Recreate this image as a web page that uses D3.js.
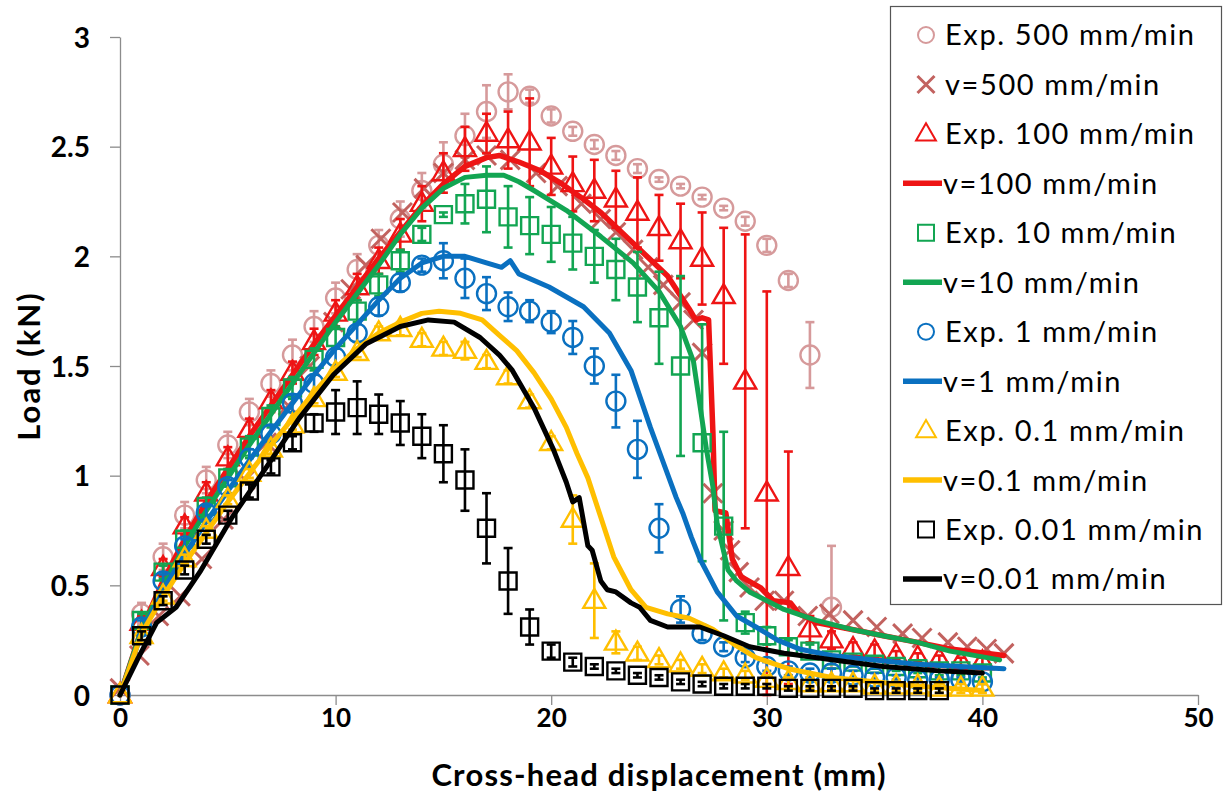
<!DOCTYPE html>
<html>
<head>
<meta charset="utf-8">
<script src="https://cdn.jsdelivr.net/npm/d3@7"></script>
<style>
  html, body { margin: 0; padding: 0; background: #fff; }
  svg { display: block; }
</style>
</head>
<body>
<svg id="chart" width="1227" height="800"></svg>
<script>
// ---- Axis ticks ----
const xTicks = [0, 10, 20, 30, 40, 50];
const yTicks = [0, 0.5, 1, 1.5, 2, 2.5, 3];

// ---- Experimental data (one point per mm): mean load and error half-width (kN) ----
const exp500 = [0,0.37,0.63,0.82,0.98,1.14,1.29,1.42,1.55,1.68,1.81,1.94,2.05,2.17,2.30,2.42,2.55,2.66,2.75,2.73,2.64,2.57,2.51,2.46,2.40,2.35,2.32,2.27,2.22,2.16,2.05,1.89,1.55,0.40];
const err500 = [0,0.05,0.06,0.06,0.06,0.06,0.06,0.06,0.07,0.07,0.07,0.07,0.07,0.08,0.08,0.1,0.1,0.12,0.08,0.03,0.03,0.02,0.02,0.02,0.02,0.01,0.01,0.01,0.01,0.02,0.03,0.03,0.15,0.28];

const exp100 = [0,0.33,0.58,0.77,0.92,1.08,1.21,1.34,1.47,1.61,1.74,1.86,1.98,2.10,2.24,2.38,2.49,2.56,2.53,2.52,2.41,2.33,2.30,2.26,2.20,2.13,2.07,1.99,1.82,1.43,0.92,0.58,0.30,0.25,0.21,0.20,0.18,0.17,0.16,0.15,0.15];
const err100 = [0,0.03,0.04,0.04,0.05,0.05,0.05,0.05,0.05,0.06,0.06,0.06,0.06,0.07,0.08,0.09,0.1,0.09,0.13,0.2,0.13,0.125,0.14,0.13,0.16,0.15,0.17,0.21,0.31,0.67,0.92,0.53,0.06,0.04,0.03,0.03,0.02,0.02,0.02,0.02,0.02];

const exp10 = [0,0.34,0.56,0.71,0.86,0.99,1.13,1.27,1.40,1.53,1.63,1.75,1.87,1.98,2.10,2.19,2.24,2.26,2.18,2.14,2.10,2.06,2.00,1.94,1.86,1.72,1.50,1.15,0.77,0.33,0.27,0.22,0.20,0.16,0.15,0.14,0.13,0.12,0.11,0.11,0.10];
const err10 = [0,0.03,0.03,0.04,0.04,0.04,0.05,0.05,0.05,0.05,0.05,0.05,0.05,0.05,0.03,0.01,0.09,0.15,0.14,0.13,0.125,0.12,0.12,0.14,0.16,0.21,0.41,0.54,0.43,0.05,0.04,0.03,0.03,0.02,0.02,0.02,0.02,0.02,0.02,0.02,0.02];

const exp1 = [0,0.31,0.52,0.68,0.83,0.95,1.08,1.19,1.33,1.42,1.54,1.65,1.77,1.88,1.96,1.98,1.90,1.83,1.77,1.75,1.70,1.63,1.50,1.34,1.12,0.76,0.39,0.28,0.22,0.17,0.13,0.11,0.10,0.10,0.09,0.08,0.08,0.07,0.07,0.07,0.06];
const err1 = [0,0.03,0.03,0.03,0.03,0.03,0.04,0.04,0.04,0.04,0.04,0.04,0.04,0.04,0.03,0.08,0.09,0.075,0.065,0.05,0.05,0.075,0.08,0.12,0.13,0.11,0.06,0.03,0.02,0.02,0.02,0.02,0.02,0.02,0.02,0.02,0.01,0.01,0.01,0.01,0.01];

const exp01 = [0,0.27,0.45,0.62,0.75,0.89,1.01,1.12,1.23,1.35,1.47,1.56,1.65,1.67,1.62,1.58,1.57,1.52,1.45,1.34,1.15,0.80,0.43,0.24,0.19,0.16,0.14,0.12,0.10,0.09,0.07,0.06,0.05,0.05,0.05,0.04,0.04,0.04,0.03,0.03,0.03];
const err01 = [0,0.02,0.02,0.02,0.02,0.02,0.02,0.02,0.02,0.02,0.02,0.02,0.03,0.03,0.03,0.03,0.04,0.03,0.03,0.03,0.03,0.11,0.17,0.05,0.03,0.02,0.02,0.02,0.02,0.02,0.02,0.02,0.02,0.02,0.02,0.02,0.02,0.02,0.02,0.02,0.02];

const exp001 = [0,0.27,0.43,0.57,0.71,0.82,0.93,1.04,1.15,1.24,1.29,1.31,1.28,1.24,1.18,1.10,0.98,0.76,0.52,0.31,0.20,0.15,0.13,0.11,0.09,0.08,0.06,0.05,0.04,0.04,0.04,0.03,0.03,0.03,0.03,0.02,0.02,0.02,0.02];
const err001 = [0,0.02,0.02,0.02,0.02,0.02,0.03,0.03,0.03,0.04,0.1,0.12,0.09,0.1,0.1,0.13,0.14,0.16,0.15,0.08,0.03,0.02,0.01,0.01,0.01,0.01,0.01,0.01,0.01,0.01,0.01,0.01,0.01,0.01,0.01,0.01,0.01,0.01,0.01];

// ---- Simulation results: [displacement (mm), load (kN)] ----
const sim500 = [[0,0.03],[0.9,0.18],[1.8,0.36],[2.8,0.45],[3.8,0.62],[4.8,0.8],[5.8,0.98],[6.8,1.15],[7.8,1.32],[8.8,1.5],[9.9,1.7],[10.7,1.85],[11.4,1.96],[12.1,2.08],[13.1,2.2],[14.1,2.31],[15.0,2.38],[16.0,2.44],[17.0,2.46],[18.1,2.44],[19.3,2.38],[20.3,2.32],[21.4,2.24],[22.3,2.17],[23.0,2.11],[23.8,2.03],[24.5,1.95],[25.2,1.87],[26.0,1.79],[26.6,1.71],[27.0,1.56],[27.5,0.92],[28.0,0.75],[28.3,0.66],[28.7,0.56],[29.2,0.49],[29.9,0.43],[30.8,0.43],[31.9,0.36],[32.9,0.37],[34.0,0.34],[35.1,0.31],[36.3,0.28],[37.2,0.26],[38.4,0.24],[39.3,0.22],[40.2,0.21],[41.0,0.19]];

const sim100 = [[0,0],[1,0.3],[2,0.52],[3,0.71],[4,0.88],[5,1.03],[6,1.18],[7,1.32],[8,1.46],[9,1.6],[10,1.73],[11,1.86],[12,1.99],[13,2.11],[14,2.23],[15,2.33],[16,2.41],[17,2.45],[17.6,2.46],[18.5,2.43],[19.5,2.39],[20.5,2.33],[21.5,2.26],[22.3,2.2],[23.8,2.06],[25.4,1.91],[26.4,1.76],[26.7,1.71],[27.0,1.72],[27.3,1.71],[27.5,1.2],[27.6,0.84],[28.1,0.83],[28.4,0.62],[28.8,0.54],[29.7,0.49],[30.3,0.43],[31.1,0.42],[31.5,0.37],[32.3,0.33],[33.9,0.3],[35.4,0.27],[37,0.24],[38.5,0.21],[41,0.18]];

const sim10 = [[0,0],[1,0.3],[2,0.5],[3,0.68],[4,0.84],[5,0.99],[6,1.14],[7,1.28],[8,1.42],[9,1.56],[10,1.7],[11,1.83],[12,1.96],[13,2.1],[14,2.22],[15,2.31],[16,2.36],[17,2.37],[17.8,2.37],[18.5,2.34],[19.2,2.3],[20.7,2.21],[22.3,2.09],[23.8,1.97],[25,1.84],[26,1.68],[26.6,1.52],[26.9,1.32],[27.2,1.12],[27.5,0.95],[27.7,0.78],[28.2,0.57],[28.6,0.52],[29.2,0.47],[30.8,0.39],[32.3,0.34],[33.9,0.3],[35.4,0.27],[37,0.24],[38.5,0.2],[40.8,0.16]];

const sim1 = [[0,0],[1,0.28],[2,0.48],[3,0.64],[4,0.79],[5,0.93],[6,1.07],[7,1.2],[8,1.33],[9,1.46],[10,1.58],[11,1.69],[12,1.8],[13,1.9],[14,1.97],[15,2.0],[16,2.0],[17,1.97],[17.7,1.95],[18.1,1.98],[18.5,1.92],[19.9,1.86],[21.5,1.77],[22.7,1.65],[23.7,1.48],[24.6,1.22],[25.2,1.06],[25.8,0.9],[26.1,0.83],[26.5,0.72],[26.9,0.62],[27.7,0.47],[28.6,0.36],[29.5,0.31],[30.5,0.25],[31.5,0.21],[33,0.18],[35,0.16],[37,0.14],[39,0.13],[41,0.12]];

const sim01 = [[0,0],[1,0.28],[2,0.45],[3,0.6],[4,0.74],[5,0.88],[6,1.01],[7,1.14],[8,1.26],[9,1.38],[10,1.49],[11,1.58],[12,1.65],[13,1.7],[14,1.74],[14.8,1.75],[15.8,1.74],[16.8,1.71],[17.6,1.64],[18.4,1.57],[19.2,1.47],[20,1.35],[20.7,1.22],[21.2,1.1],[21.7,0.99],[22.3,0.81],[22.9,0.63],[23.7,0.48],[24.4,0.4],[25.4,0.37],[26.4,0.35],[27.5,0.3],[28.5,0.23],[29.5,0.17],[31,0.12],[33,0.08],[35,0.06],[37,0.04],[40,0.02]];

const sim001 = [[0,0],[0.8,0.16],[1.7,0.33],[2.6,0.4],[3.7,0.56],[5.2,0.81],[6.8,1.04],[8.3,1.26],[9.9,1.46],[11.4,1.6],[13,1.68],[14.3,1.71],[15.5,1.7],[16.7,1.63],[17.6,1.55],[18.2,1.48],[19.2,1.31],[20.1,1.12],[20.7,0.97],[21.0,0.88],[21.3,0.9],[21.7,0.68],[21.9,0.66],[22.3,0.52],[22.6,0.48],[23,0.47],[23.7,0.42],[24.1,0.4],[24.6,0.34],[25.4,0.31],[26.9,0.31],[28,0.27],[29.2,0.22],[30.8,0.19],[33.1,0.16],[35.4,0.13],[38,0.11],[40,0.1]];

// ---- Series styling (drawing order = legend order) ----
const C = {
  pink: "#d69a9b", xmark: "#c2625f", red: "#ee1414",
  green: "#12a552", blue: "#0a70c0", yellow: "#ffbf00", black: "#000000"
};
const series = [
  { label: "Exp. 500 mm/min",  type: "exp", shape: "circle",   color: C.pink,   y: exp500, e: err500 },
  { label: "v=500 mm/min",     type: "mark", shape: "x",       color: C.xmark,  pts: sim500 },
  { label: "Exp. 100 mm/min",  type: "exp", shape: "triangle", color: C.red,    y: exp100, e: err100 },
  { label: "v=100 mm/min",     type: "line",                   color: C.red,    pts: sim100, w: 5.5 },
  { label: "Exp. 10 mm/min",   type: "exp", shape: "square",   color: C.green,  y: exp10,  e: err10 },
  { label: "v=10 mm/min",      type: "line",                   color: C.green,  pts: sim10,  w: 5 },
  { label: "Exp. 1 mm/min",    type: "exp", shape: "circle",   color: C.blue,   y: exp1,   e: err1 },
  { label: "v=1 mm/min",       type: "line",                   color: C.blue,   pts: sim1,   w: 5 },
  { label: "Exp. 0.1 mm/min",  type: "exp", shape: "triangle", color: C.yellow, y: exp01,  e: err01 },
  { label: "v=0.1 mm/min",     type: "line",                   color: C.yellow, pts: sim01,  w: 5 },
  { label: "Exp. 0.01 mm/min", type: "exp", shape: "square",   color: C.black,  y: exp001, e: err001 },
  { label: "v=0.01 mm/min",    type: "line",                   color: C.black,  pts: sim001, w: 5 }
];

// ---- Layout ----
const svg = d3.select("#chart");
const x = d3.scaleLinear().domain([0, 50]).range([120, 1198]);
const y = d3.scaleLinear().domain([0, 3]).range([695, 37]);
const FONT = "Lato, 'Open Sans', sans-serif";

// Marker outline paths centred on (0,0)
function shapePath(shape, s) {
  const p = d3.path();
  if (shape === "circle") {
    p.arc(0, 0, s, 0, 2 * Math.PI);
  } else if (shape === "square") {
    p.rect(-s, -s, 2 * s, 2 * s);
  } else if (shape === "triangle") {
    const h = s * 1.9;
    p.moveTo(0, -h * 0.62); p.lineTo(s * 1.1, h * 0.38); p.lineTo(-s * 1.1, h * 0.38); p.closePath();
  } else if (shape === "x") {
    p.moveTo(-s, -s); p.lineTo(s, s); p.moveTo(s, -s); p.lineTo(-s, s);
  }
  return p.toString();
}
const markerSize = { circle: 9.5, square: 8.5, triangle: 10, x: 9.5 };

// ---- Axes ----
const axisColor = "#8c8c8c";
const yAxis = svg.append("g").attr("transform", "translate(120,0)")
  .call(d3.axisLeft(y).tickValues(yTicks).tickSize(10).tickSizeOuter(0).tickFormat(d3.format("")));
const xAxis = svg.append("g").attr("transform", "translate(0,695)")
  .call(d3.axisBottom(x).tickValues(xTicks).tickSize(10).tickSizeOuter(0));
[yAxis, xAxis].forEach(g => {
  g.select(".domain").attr("stroke", axisColor).attr("stroke-width", 1.3);
  g.selectAll(".tick line").attr("stroke", axisColor).attr("stroke-width", 1.3);
  g.selectAll(".tick text").attr("fill", "#000").attr("font-family", FONT).attr("font-weight", 700);
});
yAxis.selectAll(".tick text").attr("font-size", 28).attr("x", -30).attr("dy", "0.36em");
xAxis.selectAll(".tick text").attr("font-size", 26).attr("y", 14).attr("dy", "0.71em");

svg.append("text").attr("x", 659).attr("y", 786).attr("text-anchor", "middle")
  .attr("font-family", FONT).attr("font-weight", 700).attr("font-size", 31)
  .attr("letter-spacing", 1.2)
  .text("Cross-head displacement (mm)");
svg.append("text").attr("transform", "translate(40,366) rotate(-90)").attr("text-anchor", "middle")
  .attr("font-family", FONT).attr("font-weight", 700).attr("font-size", 31)
  .attr("letter-spacing", 2)
  .text("Load (kN)");

// ---- Plot series ----
const plot = svg.append("g");
const line = d3.line().x(d => x(d[0])).y(d => y(d[1]));

series.forEach(s => {
  const g = plot.append("g");
  if (s.type === "line") {
    g.append("path").datum(s.pts).attr("d", line)
      .attr("fill", "none").attr("stroke", s.color).attr("stroke-width", s.w)
      .attr("stroke-linejoin", "round").attr("stroke-linecap", "round");
  } else if (s.type === "mark") {
    g.selectAll("path").data(s.pts).join("path")
      .attr("transform", d => `translate(${x(d[0])},${y(d[1])})`)
      .attr("d", shapePath("x", markerSize.x))
      .attr("fill", "none").attr("stroke", s.color).attr("stroke-width", 3);
  } else {
    const pts = s.y.map((v, i) => ({ x: i, v, e: s.e[i] }));
    // error bars
    const eb = g.selectAll("g.eb").data(pts.filter(d => d.e > 0)).join("g");
    eb.append("line")
      .attr("x1", d => x(d.x)).attr("x2", d => x(d.x))
      .attr("y1", d => y(d.v - d.e)).attr("y2", d => y(d.v + d.e))
      .attr("stroke", s.color).attr("stroke-width", 2.6);
    [-1, 1].forEach(sg => {
      eb.append("line")
        .attr("x1", d => x(d.x) - 4.5).attr("x2", d => x(d.x) + 4.5)
        .attr("y1", d => y(d.v + sg * d.e)).attr("y2", d => y(d.v + sg * d.e))
        .attr("stroke", s.color).attr("stroke-width", 2.6);
    });
    // markers
    g.selectAll("path.m").data(pts).join("path").attr("class", "m")
      .attr("transform", d => `translate(${x(d.x)},${y(d.v)})`)
      .attr("d", shapePath(s.shape, markerSize[s.shape]))
      .attr("fill", "none").attr("stroke", s.color).attr("stroke-width", 2.4)
      .attr("stroke-linejoin", "miter");
  }
});

// ---- Legend ----
const legend = svg.append("g");
legend.append("rect").attr("x", 890.5).attr("y", 6.5).attr("width", 331).attr("height", 598)
  .attr("fill", "#fff").attr("stroke", "#555").attr("stroke-width", 1.2);
const rowY = d3.scaleLinear().domain([0, 11]).range([35, 579]);
series.forEach((s, i) => {
  const cy = rowY(i);
  const row = legend.append("g");
  if (s.type === "line") {
    row.append("line").attr("x1", 903).attr("x2", 942).attr("y1", cy).attr("y2", cy)
      .attr("stroke", s.color).attr("stroke-width", 5.5);
  } else {
    const shape = s.type === "mark" ? "x" : s.shape;
    const sz = shape === "x" ? 8.5 : (shape === "triangle" ? 9 : 8);
    row.append("path").attr("transform", `translate(926,${cy})`)
      .attr("d", shapePath(shape, sz)).attr("fill", "none").attr("stroke", s.color)
      .attr("stroke-width", shape === "x" ? 3 : 2);
  }
  row.append("text").attr("x", s.type === "line" ? 943 : 945).attr("y", cy).attr("dy", "0.36em")
    .attr("font-family", FONT).attr("font-size", 29).attr("letter-spacing", 1.6).attr("fill", "#000")
    .text(s.label);
});
</script>
</body>
</html>
